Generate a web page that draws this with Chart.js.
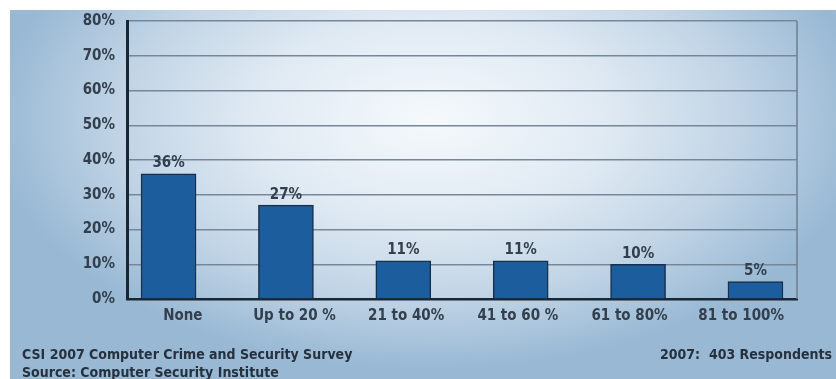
<!DOCTYPE html>
<html>
<head>
<meta charset="utf-8">
<script src="https://cdn.jsdelivr.net/npm/chart.js@4.4.1/dist/chart.umd.min.js"></script>
<style>
  html, body { margin: 0; padding: 0; background: #fff; }
  #wrap { width: 836px; height: 379px; position: relative; }
</style>
</head>
<body>
<div id="wrap"><canvas id="survey-chart" width="836" height="379"></canvas></div>
<script>
// share of security budget spent on outsourcing, CSI 2007
const categories = ["None", "Up to 20 %", "21 to 40%", "41 to 60 %", "61 to 80%", "81 to 100%"];
const shares = [36, 27, 11, 11, 10, 5];
const surveyTitle = "CSI 2007 Computer Crime and Security Survey";
const surveySource = "Source: Computer Security Institute";
const respondents = "2007:  403 Respondents";

const FONT = '"Liberation Sans Narrow", "DejaVu Sans Condensed", sans-serif';
const INK = "#333f4c";

// soft blue glow behind everything
const backdrop = {
  id: "backdrop",
  beforeDraw(chart) {
    const { ctx, width, height } = chart;
    ctx.save();
    ctx.fillStyle = "#fff";
    ctx.fillRect(0, 0, width, height);
    const cx = 430, cy = 120, sx = 1.75;
    ctx.translate(cx, cy);
    ctx.scale(sx, 1);
    const g = ctx.createRadialGradient(0, 0, 0, 0, 0, 250);
    g.addColorStop(0, "#f5f9fc");
    g.addColorStop(0.4, "#e0eaf3");
    g.addColorStop(0.7, "#c2d5e6");
    g.addColorStop(1, "#98b8d4");
    ctx.fillStyle = g;
    ctx.fillRect((10 - cx) / sx, 10 - cy, (width - 10) / sx, height - 10);
    ctx.restore();
  }
};

// right edge of the plot frame
const frame = {
  id: "frame",
  beforeDatasetsDraw(chart) {
    const { ctx, chartArea: a } = chart;
    ctx.save();
    ctx.strokeStyle = "#6f7f90";
    ctx.lineWidth = 1.5;
    ctx.beginPath();
    ctx.moveTo(a.right, a.top);
    ctx.lineTo(a.right, a.bottom);
    ctx.stroke();
    ctx.restore();
  }
};

// percentage over each bar, and the footer notes
const labels = {
  id: "labels",
  afterDatasetsDraw(chart) {
    const { ctx } = chart;
    const meta = chart.getDatasetMeta(0);
    ctx.save();
    ctx.font = "bold 15px " + FONT;
    ctx.fillStyle = INK;
    ctx.textAlign = "center";
    ctx.textBaseline = "bottom";
    meta.data.forEach((bar, i) => {
      ctx.fillText(shares[i] + "%", bar.x, bar.y - 3);
    });
    ctx.restore();
  },
  afterDraw(chart) {
    const { ctx, width } = chart;
    ctx.save();
    ctx.font = "bold 14px " + FONT;
    ctx.fillStyle = "#26313d";
    ctx.textBaseline = "middle";
    ctx.textAlign = "left";
    ctx.fillText(surveyTitle, 22, 355);
    ctx.fillText(surveySource, 22, 373);
    ctx.textAlign = "right";
    ctx.fillText(respondents, width - 4, 355);
    ctx.restore();
  }
};

new Chart(document.getElementById("survey-chart"), {
  type: "bar",
  data: {
    datasets: [{
      data: shares.map((v, i) => ({ x: i, y: v })),
      xAxisID: "xb",
      backgroundColor: "#1c5d9d",
      borderColor: "#16304d",
      borderWidth: 1.5,
      barThickness: 55
    }]
  },
  options: {
    responsive: false,
    animation: false,
    layout: { padding: { top: 21, right: 39, left: 0, bottom: 0 } },
    plugins: { legend: { display: false }, tooltip: { enabled: false } },
    scales: {
      x: {
        type: "category",
        labels: categories,
        offset: true,
        grid: { display: false, drawTicks: false },
        border: { display: true, color: "#1b2633", width: 2.5 },
        ticks: { color: INK, font: { family: FONT, size: 15, weight: "bold" }, padding: 8, maxRotation: 0 },
        afterFit(scale) { scale.height = 80; }
      },
      xb: {
        type: "linear",
        display: false,
        offset: false,
        grid: { offset: false },
        min: -0.354,
        max: categories.length - 1 + 0.354
      },
      y: {
        min: 0,
        max: 80,
        ticks: {
          stepSize: 10,
          color: INK,
          padding: 12,
          font: { family: FONT, size: 15, weight: "bold" },
          callback: (v) => v + "%"
        },
        grid: { color: "#76879a", lineWidth: 1.5, drawTicks: false },
        border: { display: true, color: "#1b2633", width: 3 },
        afterFit(scale) { scale.width = 127; }
      }
    }
  },
  plugins: [backdrop, frame, labels]
});
</script>
</body>
</html>
